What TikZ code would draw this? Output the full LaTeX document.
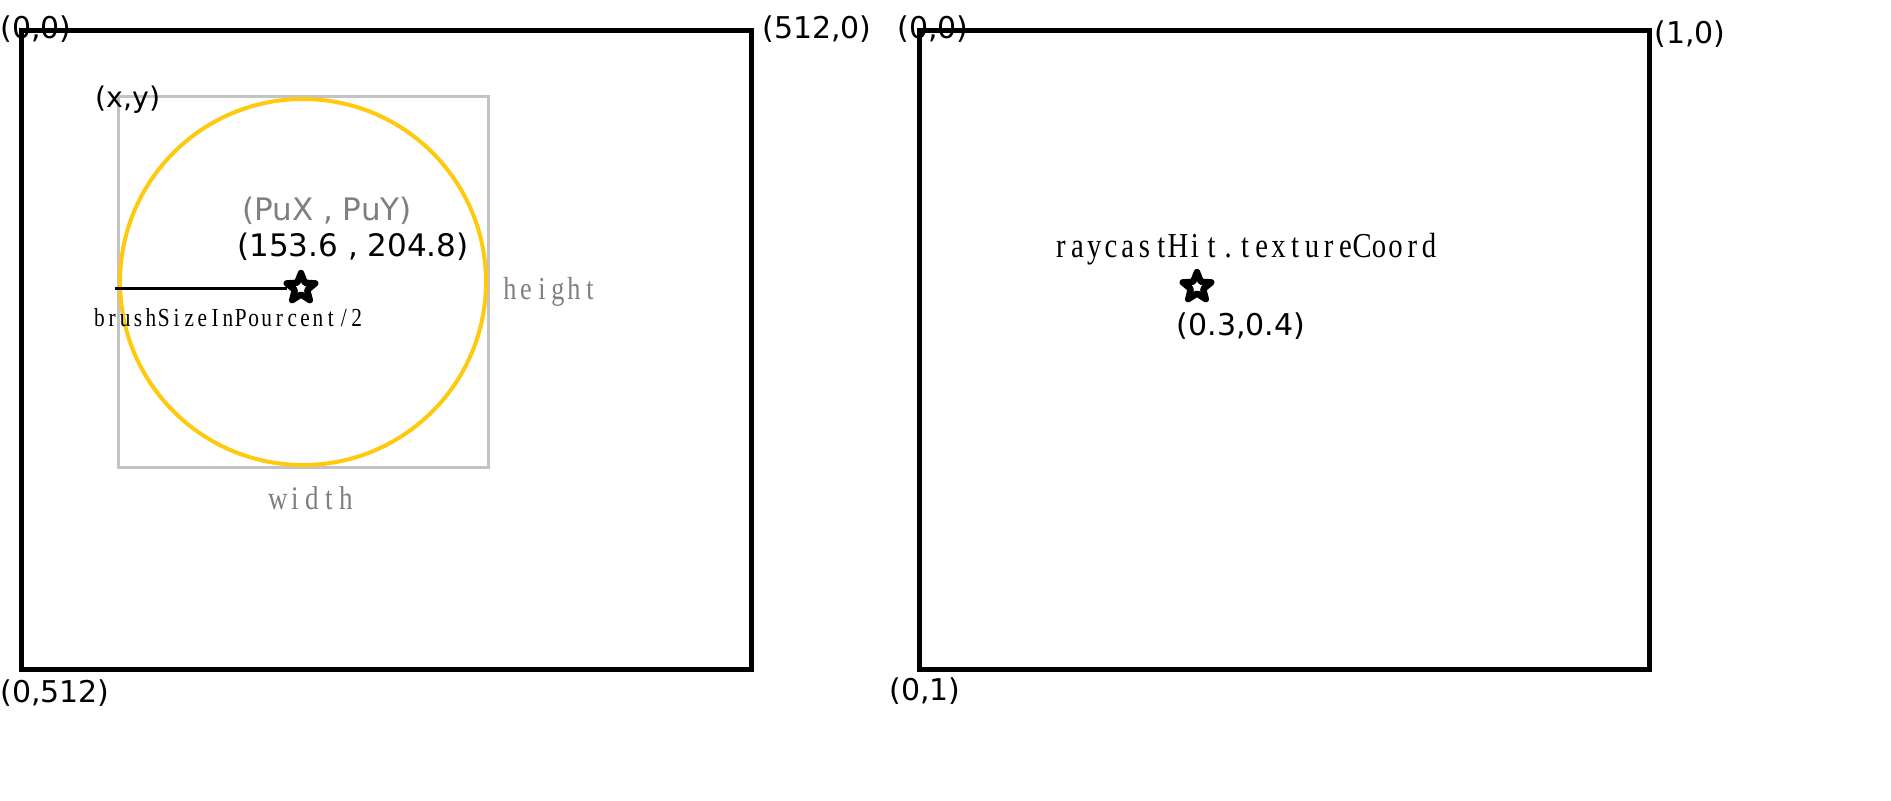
\documentclass[tikz,border=0pt]{standalone}
\usepackage{fontspec}
\setmainfont{DejaVu Sans}
\newfontfamily\cellfont{Liberation Serif}
\usepackage{tikz}
\usetikzlibrary{shapes.geometric}

\definecolor{boxgray}{HTML}{C3C3C3}
\definecolor{brushgold}{HTML}{FFC90E}
\definecolor{labelgray}{HTML}{7F7F7F}

% every letter in a cell of the same width
\newlength\cellw
\newcommand\celltext[1]{\celltextloop#1\relax}
\def\celltextloop#1{\ifx\relax#1\else\makebox[\cellw][c]{\scalebox{0.82}[1]{#1}}\expandafter\celltextloop\fi}

\tikzset{
  frame/.style={line width=2.5pt},
  corner/.style={inner sep=0pt, font=\fontsize{15}{17}\selectfont},
  spaced/.style 2 args={inner sep=0pt, anchor=base,
    font=\cellfont\fontsize{#1}{#1}\selectfont\setlength\cellw{#2}},
  pixstar/.style={star, star points=5, star point ratio=2.3, minimum size=15pt,
    inner sep=0pt, draw, line width=3.2pt, line join=round, fill=white}
}

\begin{document}
\begin{tikzpicture}[x=0.5pt,y=-0.5pt]
        \useasboundingbox (0,0) rectangle (1891,800);
        % texture in pixels
        \coordinate (A) at (21,30);
        \coordinate (B) at (751,669);
        \draw[frame] (A) rectangle (B);
        \node[corner] (topleft) at (36,29) {(0,0)};
        \node[corner] (topright) at (817,29) {(512,0)};
        \node[corner] (bottomleft) at (55,693) {(0,512)};
        % brush square and circle
        \coordinate (C) at (118,96);
        \coordinate (D) at (488,467);
        \draw[boxgray, line width=1.5pt] (C) rectangle (D);
        \draw[brushgold, line width=2pt] (303,282) circle[radius=183];
        \node[corner, font=\fontsize{14.2}{16}\selectfont] (corner) at (128,100) {(x,y)};
        \node[corner, labelgray, font=\fontsize{15.5}{17}\selectfont] (puname) at (327,211) {(PuX , PuY)};
        \node[corner, font=\fontsize{15.5}{17}\selectfont] (puvalue) at (353,247) {(153.6 , 204.8)};
        \node[pixstar] (brushstar) at (301,288) {};
        \coordinate (brushedge) at (115,288);
        \draw[line width=1.5pt] (brushedge) -- (brushstar);
        \node[spaced={13}{6.43pt}] (radius) at (228,326) {\celltext{brushSizeInPourcent/2}};
        \node[spaced={16}{8pt}, labelgray] (height) at (550,299) {\celltext{height}};
        \node[spaced={16.5}{8.5pt}, labelgray] (width) at (312,509) {\celltext{width}};
        
        \begin{scope}[xshift=449pt]
        % texture in uv
        \coordinate (A) at (21,30);
        \coordinate (B) at (751,669);
        \draw[frame] (A) rectangle (B);
        \node[corner] (uvtopleft) at (35,29) {(0,0)};
        \node[corner] (uvtopright) at (792,34) {(1,0)};
        \node[corner] (uvbottomleft) at (27,691) {(0,1)};
        \node[spaced={17.5}{8.37pt}] (hitname) at (347,257) {\celltext{raycastHit.textureCoord}};
        \node[pixstar] (uvstar) at (299,287) {};
        \node[corner] (uvvalue) at (343,326) {(0.3,0.4)};
        \end{scope}
\end{tikzpicture}
\end{document}
